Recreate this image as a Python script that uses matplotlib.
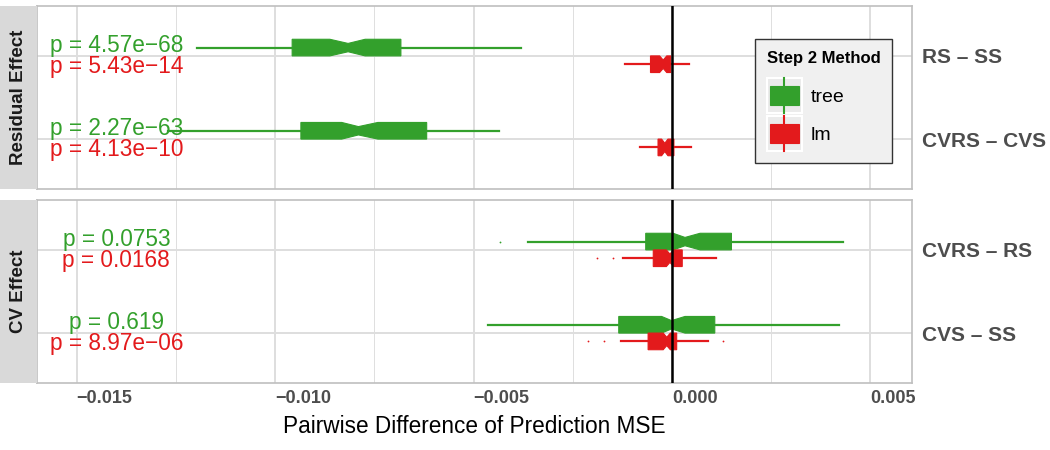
import matplotlib
matplotlib.use("Agg")
import matplotlib.pyplot as plt
from matplotlib.legend_handler import HandlerBase
from matplotlib.patches import Rectangle, Patch
from matplotlib.lines import Line2D

plt.rcParams["font.family"] = ["Liberation Sans", "DejaVu Sans"]

# facets and comparisons (two per facet)
facets = ["Residual Effect", "CV Effect"]
comparisons = ["RS – SS", "CVRS – CVS", "CVRS – RS", "CVS – SS"]
facet_of = [0, 0, 1, 1]
methods = ["tree", "lm"]
colors = {"tree": "#33A02C", "lm": "#E31A1C"}

# boxplot summaries, in comparison order
tree_whislo = [-0.01198, -0.01270, -0.00362, -0.00464]
tree_q1 = [-0.00957, -0.00935, -0.00066, -0.00134]
tree_cilo = [-0.00862, -0.00832, 0.00003, -0.00026]
tree_med = [-0.00816, -0.00790, 0.00033, -0.00001]
tree_cihi = [-0.00773, -0.00741, 0.00071, 0.00033]
tree_q3 = [-0.00683, -0.00618, 0.00150, 0.00108]
tree_whishi = [-0.00380, -0.00436, 0.00432, 0.00421]
tree_fliers = [[], [], [-0.00432], []]

lm_whislo = [-0.00117, -0.00081, -0.00124, -0.00129]
lm_q1 = [-0.00054, -0.00035, -0.00047, -0.00060]
lm_cilo = [-0.00031, -0.00026, -0.00014, -0.00022]
lm_med = [-0.00022, -0.00018, -0.00005, -0.00013]
lm_cihi = [-0.00013, -0.00010, 0.00004, -0.00004]
lm_q3 = [-0.00003, 0.00005, 0.00026, 0.00012]
lm_whishi = [0.00042, 0.00047, 0.00111, 0.00091]
lm_fliers = [[], [], [-0.00189, -0.00149], [-0.00212, -0.00171, 0.00129]]

tree_pvals = ["p = 4.57e−68", "p = 2.27e−63", "p = 0.0753", "p = 0.619"]
lm_pvals = ["p = 5.43e−14", "p = 4.13e−10", "p = 0.0168", "p = 8.97e−06"]
pval_x = -0.014

x_major = [-0.015, -0.010, -0.005, 0.000, 0.005]
x_minor = [-0.0125, -0.0075, -0.0025, 0.0025]
x_labels = ["−0.015", "−0.010", "−0.005", "0.000", "0.005"]


def stats_for(method, i):
    if method == "tree":
        src = (tree_whislo, tree_q1, tree_cilo, tree_med, tree_cihi, tree_q3, tree_whishi, tree_fliers)
    else:
        src = (lm_whislo, lm_q1, lm_cilo, lm_med, lm_cihi, lm_q3, lm_whishi, lm_fliers)
    keys = ("whislo", "q1", "cilo", "med", "cihi", "q3", "whishi", "fliers")
    return {k: v[i] for k, v in zip(keys, src)}


class BoxKey(HandlerBase):
    def create_artists(self, legend, orig_handle, xdescent, ydescent, width, height, fontsize, trans):
        c = orig_handle.get_facecolor()
        x0, y0 = -xdescent, -ydescent
        bg = Rectangle((x0, y0), width, height, facecolor="#EBEBEB", edgecolor="white", lw=1.5, transform=trans)
        wl = Line2D([x0 + width / 2] * 2, [y0, y0 + height], color=c, lw=1.5, transform=trans)
        box = Rectangle((x0 + 0.09 * width, y0 + 0.23 * height), 0.82 * width, 0.54 * height,
                        facecolor=c, edgecolor=c, lw=0.8, transform=trans)
        return [bg, wl, box]


fig = plt.figure(figsize=(10.5, 4.5), dpi=100)
W, H = 1050, 450
panel_px = [(6, 189), (200, 383)]
axes = []
for f, (top, bot) in enumerate(panel_px):
    ax = fig.add_axes([37 / W, 1 - bot / H, 875 / W, (bot - top) / H])
    sax = fig.add_axes([0, 1 - bot / H, 37 / W, (bot - top) / H])
    sax.set_facecolor("#D9D9D9")
    sax.set_xticks([])
    sax.set_yticks([])
    for s in sax.spines.values():
        s.set_visible(False)
    sax.text(0.5, 0.5, facets[f], rotation=90, ha="center", va="center", fontsize=13.5,
             fontweight="bold", color="#1A1A1A", transform=sax.transAxes)
    axes.append(ax)

for f, ax in enumerate(axes):
    idx = [i for i in range(len(comparisons)) if facet_of[i] == f]
    for j, i in enumerate(idx):
        cat = j + 1
        for method, off, pvals in (("tree", -0.1, tree_pvals), ("lm", 0.1, lm_pvals)):
            c = colors[method]
            ax.bxp([stats_for(method, i)], positions=[cat + off], widths=0.2, orientation="horizontal",
                   shownotches=True, showcaps=False, patch_artist=True,
                   boxprops=dict(facecolor=c, edgecolor=c, linewidth=0.8),
                   whiskerprops=dict(color=c, linewidth=1.6),
                   medianprops=dict(color=c, linewidth=0),
                   flierprops=dict(marker="o", markersize=1.3, markerfacecolor=c,
                                   markeredgecolor="none", linestyle="none"),
                   zorder=3)
            ax.text(pval_x, cat + off * 1.25, pvals[i], color=c, fontsize=16.3,
                    ha="center", va="center", zorder=4)
    ax.axvline(0, color="black", lw=1.8, zorder=5)
    ax.set_xlim(-0.016, 0.00605)
    ax.set_ylim(2.6, 0.4)
    ax.set_yticks([1, 2])
    ax.set_yticklabels([comparisons[i] for i in idx])
    ax.yaxis.tick_right()
    ax.tick_params(axis="y", length=0, pad=7, labelsize=15, labelcolor="#4D4D4D")
    for lab in ax.get_yticklabels():
        lab.set_fontweight("bold")
    ax.set_xticks(x_major)
    ax.set_xticks(x_minor, minor=True)
    ax.tick_params(axis="x", which="both", length=0)
    ax.grid(True, which="major", color="#DEDEDE", lw=1.4, zorder=0)
    ax.grid(True, which="minor", axis="x", color="#DEDEDE", lw=0.7, zorder=0)
    ax.set_axisbelow(True)
    for s in ax.spines.values():
        s.set_color("#BFBFBF")
        s.set_linewidth(1.2)

axes[0].set_xticklabels([])
axes[1].set_xticklabels(x_labels, ha="left", fontweight="bold", fontsize=13, color="#4D4D4D")
axes[1].tick_params(axis="x", pad=5)
axes[1].set_xlabel("Pairwise Difference of Prediction MSE", fontsize=16.3, color="black", labelpad=6)

handles = [Patch(facecolor=colors[m], label=m) for m in methods]
leg = fig.legend(handles, methods, handler_map={Patch: BoxKey()}, loc="upper left",
                 bbox_to_anchor=(755 / W, 1 - 39 / H), frameon=True, fancybox=False,
                 facecolor="#F0F0F0", edgecolor="#333333", framealpha=1, fontsize=14,
                 title="Step 2 Method", title_fontproperties={"weight": "bold", "size": 12},
                 handlelength=1.8, handleheight=2.4, handletextpad=0.45, labelspacing=0.15,
                 borderpad=0.6, borderaxespad=0, alignment="left")
leg.get_frame().set_linewidth(1.0)
# a little more room between the title and the keys
leg._legend_box.sep = 9

fig.savefig("out.png", dpi=100)
